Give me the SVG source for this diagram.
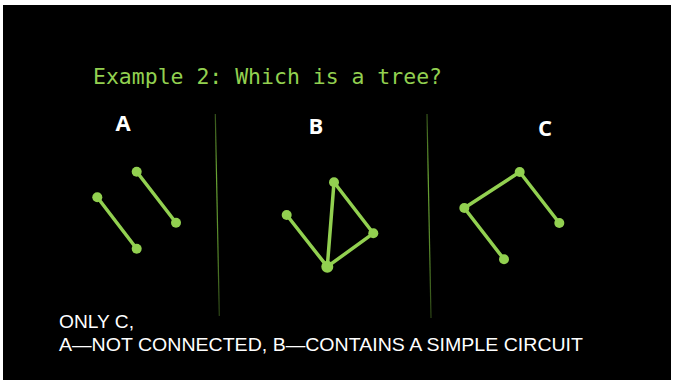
<svg xmlns="http://www.w3.org/2000/svg" width="673" height="380" viewBox="0 0 673 380">
<style>
.edge{stroke:#92d050;stroke-width:3.5;stroke-linecap:round;fill:none}
.node{fill:#92d050}
.lbl{font-family:"Open Sans","Liberation Sans",sans-serif;font-weight:bold;font-size:22px;fill:#ffffff;text-anchor:middle}
.title{font-family:"DejaVu Sans Mono","Liberation Mono",monospace;font-size:21px;fill:#92d050}
.note{font-family:"Liberation Sans",Arial,sans-serif;font-size:19px;fill:#ffffff}
</style>
<defs>
<linearGradient id="fade" x1="0" y1="0" x2="0" y2="1">
<stop offset="0" stop-color="#6aa534" stop-opacity="0.5"/>
<stop offset="0.3" stop-color="#6aa534" stop-opacity="1"/>
<stop offset="0.7" stop-color="#6aa534" stop-opacity="0.8"/>
<stop offset="1" stop-color="#6aa534" stop-opacity="0.4"/>
</linearGradient>
</defs>
<rect x="0" y="0" width="673" height="380" fill="#ffffff"/>
<rect x="3" y="5" width="668" height="375" fill="#000000"/>
<text class="title" x="93" y="84" textLength="349" lengthAdjust="spacingAndGlyphs">Example 2: Which is a tree?</text>
<text class="lbl" x="123" y="131">A</text>
<text class="lbl" x="316" y="134">B</text>
<text class="lbl" x="545" y="136">C</text>
<g id="dividers">
<path d="M215.3 114 L219.3 316" stroke="url(#fade)" stroke-width="1.2" fill="none"/>
<path d="M427 114 L431 318" stroke="url(#fade)" stroke-width="1.2" fill="none"/>
</g>
<g id="connectors">
<line class="edge" x1="97.3" y1="197.3" x2="136.7" y2="248.7"/>
<line class="edge" x1="136.7" y1="171.7" x2="176" y2="222.7"/>
<line class="edge" x1="286.7" y1="215" x2="327.3" y2="266.7"/>
<line class="edge" x1="334" y1="182.3" x2="327.3" y2="266.7"/>
<line class="edge" x1="334" y1="182.3" x2="373.3" y2="233.3"/>
<line class="edge" x1="373.3" y1="233.3" x2="327.3" y2="266.7"/>
<line class="edge" x1="464.3" y1="208" x2="519.7" y2="172"/>
<line class="edge" x1="519.7" y1="172" x2="559.3" y2="223"/>
<line class="edge" x1="464.3" y1="208" x2="504" y2="259.3"/>
</g>
<g id="nA1"><circle class="node" cx="97.3" cy="197.3" r="5"/></g>
<g id="nA2"><circle class="node" cx="136.7" cy="248.7" r="5"/></g>
<g id="nA3"><circle class="node" cx="136.7" cy="171.7" r="5"/></g>
<g id="nA4"><circle class="node" cx="176" cy="222.7" r="5"/></g>
<g id="nB1"><circle class="node" cx="286.7" cy="215" r="5"/></g>
<g id="nB2"><circle class="node" cx="334" cy="182.3" r="5"/></g>
<g id="nB3"><circle class="node" cx="373.3" cy="233.3" r="5"/></g>
<g id="nB4"><circle class="node" cx="327.3" cy="266.7" r="6"/></g>
<g id="nC1"><circle class="node" cx="464.3" cy="208" r="5"/></g>
<g id="nC2"><circle class="node" cx="519.7" cy="172" r="5"/></g>
<g id="nC3"><circle class="node" cx="559.3" cy="223" r="5"/></g>
<g id="nC4"><circle class="node" cx="504" cy="259.3" r="5"/></g>
<text class="note" x="59" y="328" textLength="75" lengthAdjust="spacingAndGlyphs">ONLY C,</text>
<text class="note" x="59" y="351" textLength="524" lengthAdjust="spacingAndGlyphs">A—NOT CONNECTED, B—CONTAINS A SIMPLE CIRCUIT</text>
</svg>
